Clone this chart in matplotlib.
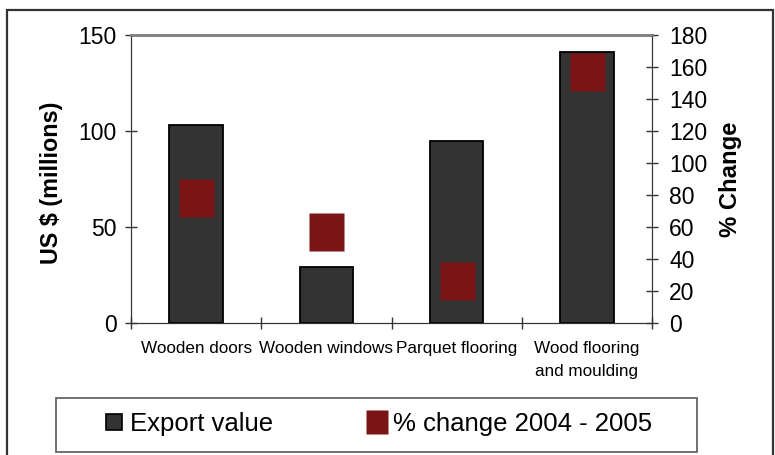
import matplotlib
matplotlib.use("Agg")
import matplotlib.pyplot as plt
from matplotlib.lines import Line2D
from matplotlib.patches import Rectangle
import numpy as np

plt.rcParams['font.family'] = ['Liberation Sans', 'DejaVu Sans']

categories = ["Wooden doors", "Wooden windows", "Parquet flooring", "Wood flooring\nand moulding"]
export_value = [103, 29, 95, 141]
pct_change = [78, 57, 26, 157]
left_ticks = [0, 50, 100, 150]
right_ticks = [0, 20, 40, 60, 80, 100, 120, 140, 160, 180]

W, H = 775, 455
fig = plt.figure(figsize=(W / 100, H / 100), dpi=100)

L, R, T, B = 131, 652, 35, 323
ax = fig.add_axes([L / W, (H - B) / H, (R - L) / W, (B - T) / H])
x = np.arange(len(categories))

ax.bar(x, export_value, width=0.41, color='#333333', edgecolor='black', linewidth=1.3, zorder=2)
ax.set_xlim(-0.5, len(categories) - 0.5)
ax.set_ylim(0, 150)
ax.set_yticks(left_ticks)
ax.set_xticks(x, categories)
ax.set_xticks(np.arange(-0.5, len(categories)), minor=True)
ax.tick_params(axis='x', which='major', length=0, pad=13, labelsize=12.3)
ax.tick_params(axis='x', which='minor', direction='inout', length=8, width=1, color='#333333')
for t in ax.get_xticklabels():
    t.set_linespacing(1.65)
ax.tick_params(axis='y', direction='inout', length=9, width=1, pad=6, labelsize=16.5, color='#333333')

rect = [(-0.45, -0.5), (0.45, -0.5), (0.45, 0.5), (-0.45, 0.5), (-0.45, -0.5)]
ax2 = ax.twinx()
ax2.plot(x, pct_change, linestyle='none', marker=rect, markersize=28,
         markerfacecolor='#7a1416', markeredgecolor='none', zorder=3)
ax2.set_ylim(0, 180)
ax2.set_yticks(right_ticks)
ax2.tick_params(axis='y', direction='inout', length=9, width=1, pad=8, labelsize=16.5, color='#333333')

for a in (ax, ax2):
    a.spines['top'].set_color('#808080')
    a.spines['top'].set_linewidth(1.8)
    a.spines['left'].set_color('#333333')
    a.spines['right'].set_color('#333333')
    a.spines['bottom'].set_color('#333333')
    a.patch.set_visible(False)

ax.set_ylabel("US $ (millions)", fontsize=16.8, fontweight='bold')
ax.yaxis.label.set_verticalalignment('center')
ax.yaxis.set_label_coords((52 - L) / (R - L), (B - 183) / (B - T))
ax2.set_ylabel("% Change", fontsize=17.2, fontweight='bold')
ax2.yaxis.label.set_verticalalignment('center')
ax2.yaxis.set_label_coords((730 - L) / (R - L), (B - 179) / (B - T))

# outer border
fig.patches.append(Rectangle((7 / W, -0.02), (773 - 7) / W, (H - 10) / H + 0.02,
                             transform=fig.transFigure, fill=False, edgecolor='#333333', linewidth=1.6))
# legend frame
fig.patches.append(Rectangle((56 / W, (H - 452) / H), (697 - 56) / W, (452 - 398) / H,
                             transform=fig.transFigure, fill=False, edgecolor='#666666', linewidth=1.3))

h1 = Line2D([], [], linestyle='none', marker='s', markersize=11.5, markerfacecolor='#333333',
            markeredgecolor='black', markeredgewidth=1.2)
h2 = Line2D([], [], linestyle='none', marker=rect, markersize=17.5, markerfacecolor='#7a1416',
            markeredgecolor='none')
fig.legend([h1, h2], ["Export value", "% change 2004 - 2005"], loc='center left',
           bbox_to_anchor=(101 / W, (H - 424) / H), ncol=2, frameon=False, fontsize=18.5,
           handlelength=1.0, handletextpad=0.12, columnspacing=3.54, borderpad=0, borderaxespad=0)

fig.savefig("out.png", dpi=100)
